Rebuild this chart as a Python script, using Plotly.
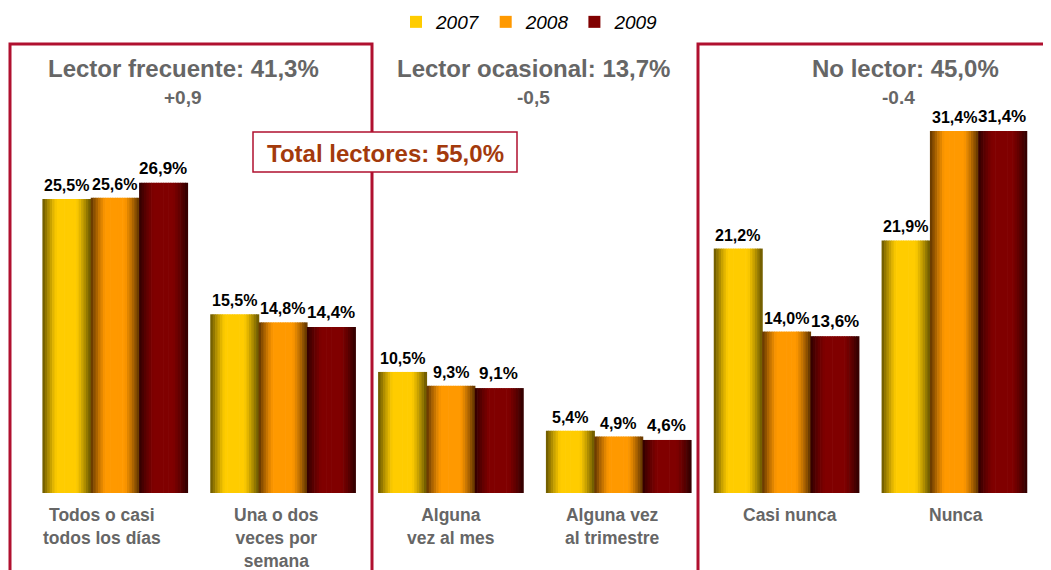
import math
import plotly.graph_objects as go

categories = ["Todos o casi<br>todos los días", "Una o dos<br>veces por<br>semana",
              "Alguna<br>vez al mes", "Alguna vez<br>al trimestre", "Casi nunca", "Nunca"]
years = ["2007", "2008", "2009"]
v2007 = [25.5, 15.5, 10.5, 5.4, 21.2, 21.9]
v2008 = [25.6, 14.8, 9.3, 4.9, 14.0, 31.4]
v2009 = [26.9, 14.4, 9.1, 4.6, 13.6, 31.4]
series = [v2007, v2008, v2009]
labels = [[f"{v:.1f}%".replace(".", ",") for v in s] for s in series]

# style: (edge colour, centre colour)
grad = [((0x66, 0x55, 0x00), (0xFF, 0xCC, 0x00)),
        ((0x5E, 0x33, 0x00), (0xFF, 0x99, 0x00)),
        ((0x30, 0x00, 0x00), (0x80, 0x00, 0x00))]
label_size = [16, 16, 17]
cat_xshift = [-13, -6, 0, -6, 4, 2]

W = 0.288
offsets = [-0.432, -0.144, 0.144]
N = 20
xs = list(range(len(categories)))

FONT = "Liberation Sans, Arial, sans-serif"

# page body has an 8px margin: figure coordinates = screen coordinates - 8
OFF = 8
FW, FH = 1051 - OFF, 570 - OFF
L, T, PW = 31 - OFF, 0, 1007
PH = 493 - OFF
SCALE = 11.53
def px(x):
    return (x - OFF - L) / PW
def py(y):
    return (PH - (y - OFF)) / PH

fig = go.Figure()
annotations = []
for si, vals in enumerate(series):
    edge, centre = grad[si]
    for k in range(N):
        t = (k + 0.5) / N
        f = math.sin(math.pi * t)
        f = max(0.0, min(1.0, f * 1.25))
        col = "rgb(%d,%d,%d)" % tuple(int(edge[c] + (centre[c] - edge[c]) * f) for c in range(3))
        fig.add_trace(go.Bar(
            x=xs, y=vals, width=W / N + 0.004, offset=offsets[si] + k * W / N,
            marker=dict(color=col, line=dict(width=0)),
            name=years[si], legendgroup=years[si],
            showlegend=(k == N // 2), hoverinfo="skip"))
    for x, v, lab in zip(xs, vals, labels[si]):
        annotations.append(dict(
            x=x + offsets[si] + W / 2, y=v, xref="x", yref="y", text="<b>" + lab + "</b>",
            showarrow=False, xanchor="center", yanchor="bottom", yshift=3,
            font=dict(family=FONT, size=label_size[si], color="black")))

crimson = "#B0102F"
shapes = [
    dict(type="rect", xref="paper", yref="paper", x0=px(10), x1=px(372), y0=py(44), y1=py(580),
         line=dict(color=crimson, width=3), fillcolor="rgba(0,0,0,0)", layer="below"),
    dict(type="rect", xref="paper", yref="paper", x0=px(698), x1=px(1060), y0=py(44), y1=py(580),
         line=dict(color=crimson, width=3), fillcolor="rgba(0,0,0,0)", layer="below"),
    dict(type="rect", xref="paper", yref="paper", x0=px(253), x1=px(517), y0=py(132), y1=py(172),
         line=dict(color=crimson, width=1.5), fillcolor="white", layer="above"),
]

gray = "#666666"
def ann(x, y, text, size, color=gray):
    return dict(xref="paper", yref="paper", x=px(x), y=py(y), text="<b>" + text + "</b>",
                showarrow=False, xanchor="center", yanchor="middle",
                font=dict(family=FONT, size=size, color=color))

annotations += [
    ann(183, 68, "Lector frecuente: 41,3%", 24),
    ann(183, 97, "+0,9", 19),
    ann(533, 68, "Lector ocasional: 13,7%", 24),
    ann(533, 97, "-0,5", 19),
    ann(905, 68, "No lector: 45,0%", 24),
    ann(898, 97, "-0.4", 19),
    ann(385, 153, "Total lectores: 55,0%", 24, "#A33A0C"),
]
for x, c, dx in zip(xs, categories, cat_xshift):
    annotations.append(dict(
        x=x, xref="x", y=py(503), yref="paper", text="<b>" + c + "</b>", xshift=dx,
        showarrow=False, xanchor="center", yanchor="top", align="center",
        font=dict(family=FONT, size=17.5, color=gray)))

fig.update_layout(
    width=FW, height=FH,
    margin=dict(l=L, r=FW - L - PW, t=T, b=FH - T - PH, autoexpand=False),
    paper_bgcolor="white", plot_bgcolor="white",
    barmode="overlay", shapes=shapes, annotations=annotations,
    legend=dict(orientation="h", x=px(530), xanchor="center", xref="paper",
                y=py(22), yanchor="middle", yref="paper",
                font=dict(family=FONT, size=19, color="black", style="italic"),
                itemwidth=30, traceorder="normal", bgcolor="rgba(0,0,0,0)"),
    xaxis=dict(range=[-0.5, 5.5], showticklabels=False,
               showgrid=False, automargin=False,
               zeroline=False, showline=False, ticks=""),
    yaxis=dict(range=[0, PH / SCALE], visible=False, showgrid=False, zeroline=False, automargin=False),
)

fig.write_html("out.html")
